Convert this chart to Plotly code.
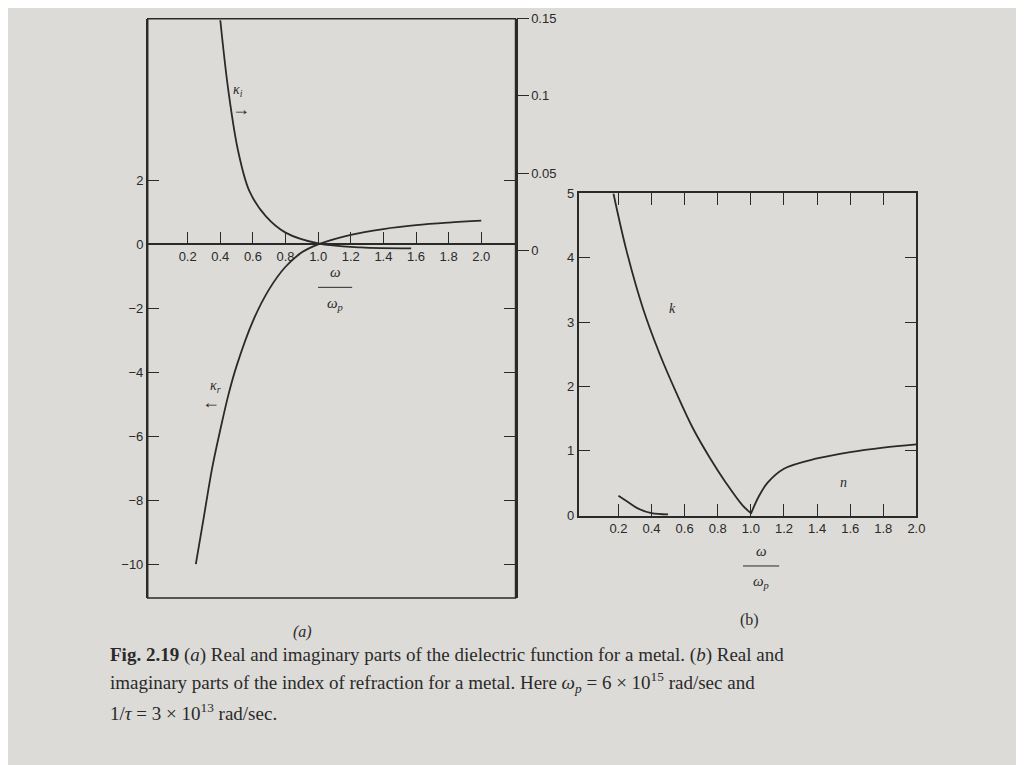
import plotly.graph_objects as go

# Panel (a): dielectric function
xr = [0.25,0.3,0.35,0.4,0.45,0.5,0.6,0.7,0.8,0.9,1.0,1.2,1.4,1.6,1.8,2.0]
kappa_r = [-10,-8.5,-7,-5.8,-4.7,-3.8,-2.4,-1.4,-0.7,-0.25,0,0.3,0.48,0.6,0.68,0.74]
xi = [0.40,0.45,0.51,0.58,0.68,0.80,1.0,1.26,1.57]
kappa_i = [0.149,0.103,0.064,0.038,0.022,0.0115,0.0045,0.0019,0.0013]
# Panel (b): index of refraction
xk = [0.17,0.25,0.35,0.45,0.55,0.65,0.75,0.85,0.95,1.0]
k_vals = [5,4.1,3.2,2.5,1.9,1.35,0.9,0.5,0.15,0.03]
xn_low = [0.2,0.26,0.32,0.4,0.5]
n_low = [0.3,0.2,0.1,0.03,0.01]
xn = [1.0,1.05,1.1,1.2,1.4,1.6,1.8,2.0]
n_vals = [0.02,0.3,0.5,0.72,0.88,0.98,1.05,1.1]
xticks = [0.2,0.4,0.6,0.8,1.0,1.2,1.4,1.6,1.8,2.0]
xlabels = ["0.2","0.4","0.6","0.8","1.0","1.2","1.4","1.6","1.8","2.0"]

W, H = 1024, 765
px = lambda v: ((v - 8.6) / 0.989) / W
py = lambda v: 1 - ((v - 14.3) / 0.983) / H
ink = "#2a2a2a"
line = dict(color=ink, width=1.8)

fig = go.Figure()
fig.add_trace(go.Scatter(x=xr, y=kappa_r, mode="lines", line=line, line_shape="spline", xaxis="x", yaxis="y"))
fig.add_trace(go.Scatter(x=xi, y=kappa_i, mode="lines", line=line, line_shape="spline", xaxis="x", yaxis="y2"))
fig.add_trace(go.Scatter(x=xk, y=k_vals, mode="lines", line=line, line_shape="spline", xaxis="x3", yaxis="y3"))
fig.add_trace(go.Scatter(x=xn_low, y=n_low, mode="lines", line=line, line_shape="spline", xaxis="x3", yaxis="y3"))
fig.add_trace(go.Scatter(x=xn, y=n_vals, mode="lines", line=line, line_shape="spline", xaxis="x3", yaxis="y3"))

tf = dict(family="Liberation Sans", size=13, color=ink)
fig.update_layout(
    width=W, height=H, margin=dict(l=0, r=0, t=0, b=0), showlegend=False,
    paper_bgcolor="#dcdbd7", plot_bgcolor="rgba(0,0,0,0)",
    xaxis=dict(domain=[px(148), px(515)], range=[-0.045, 2.21], anchor="free", position=py(244),
               tickvals=xticks, ticktext=xlabels, ticks="inside", ticklen=12, tickcolor=ink,
               showline=True, linecolor=ink, linewidth=1.5, showgrid=False, zeroline=False, tickfont=tf),
    yaxis=dict(domain=[py(598), py(18)], range=[-11.06, 7.06], tickvals=[-10,-8,-6,-4,-2,0,2],
               ticktext=["−10","−8","−6","−4","−2","0","2"], ticks="inside", ticklen=12, tickcolor=ink,
               mirror="ticks", showline=True, linecolor=ink, linewidth=1.5, showgrid=False, zeroline=False,
               tickfont=tf, anchor="x"),
    yaxis2=dict(domain=[py(598), py(18)], range=[-0.225, 0.15], overlaying="y", side="right", anchor="x",
                tickvals=[0,0.05,0.1,0.15], ticktext=["0","0.05","0.1","0.15"], ticks="outside", ticklen=12,
                tickcolor=ink, showgrid=False, zeroline=False, tickfont=tf, showline=False),
    xaxis3=dict(domain=[px(578), px(915)], range=[-0.04, 2.0], anchor="y3", tickvals=xticks, ticktext=xlabels,
                ticks="inside", ticklen=12, tickcolor=ink, mirror="ticks", showline=True, linecolor=ink,
                linewidth=1.5, showgrid=False, zeroline=False, tickfont=tf),
    yaxis3=dict(domain=[py(516), py(193)], range=[-0.015, 5], anchor="x3", tickvals=[0,1,2,3,4,5],
                ticks="inside", ticklen=12, tickcolor=ink, mirror="ticks", showline=True, linecolor=ink,
                linewidth=1.5, showgrid=False, zeroline=False, tickfont=tf),
)
fig.add_shape(type="rect", xref="paper", yref="paper", x0=px(148), x1=px(515), y0=py(598), y1=py(18),
              line=dict(color=ink, width=1.5))
for (a, b, yy) in [(318, 352, 287), (742, 778, 566)]:
    fig.add_shape(type="line", xref="paper", yref="paper", x0=px(a), x1=px(b), y0=py(yy), y1=py(yy),
                  line=dict(color=ink, width=1))

ann = []
def t(x, y, s, size=14, fam="Liberation Serif", xa="center", it=False):
    txt = f"<i>{s}</i>" if it else s
    ann.append(dict(x=px(x), y=py(y), xref="paper", yref="paper", text=txt, showarrow=False,
                    font=dict(family=fam, size=size, color=ink), xanchor=xa, yanchor="middle"))
t(335, 272, "ω", 15, it=True); t(335, 304, "ω<sub>p</sub>", 15, it=True)
t(760, 551, "ω", 15, it=True); t(760, 582, "ω<sub>p</sub>", 15, it=True)
t(238, 90, "κ<sub>i</sub>", 14, it=True); t(241, 108, "→", 18)
t(216, 386, "κ<sub>r</sub>", 14, it=True); t(211, 402, "←", 18)
t(672, 308, "k", 14, it=True); t(842, 482, "n", 14, it=True)
t(302, 632, "(a)", 16, it=True); t(748, 620, "(b)", 16)
t(108, 655, "<b>Fig. 2.19</b> (<i>a</i>) Real and imaginary parts of the dielectric function for a metal. (<i>b</i>) Real and", 19, xa="left")
t(108, 683, "imaginary parts of the index of refraction for a metal. Here <i>ω<sub>p</sub></i> = 6 × 10<sup>15</sup> rad/sec and", 19, xa="left")
t(108, 712, "1/<i>τ</i> = 3 × 10<sup>13</sup> rad/sec.", 19, xa="left")
fig.update_layout(annotations=ann)
fig.write_html("out.html")
